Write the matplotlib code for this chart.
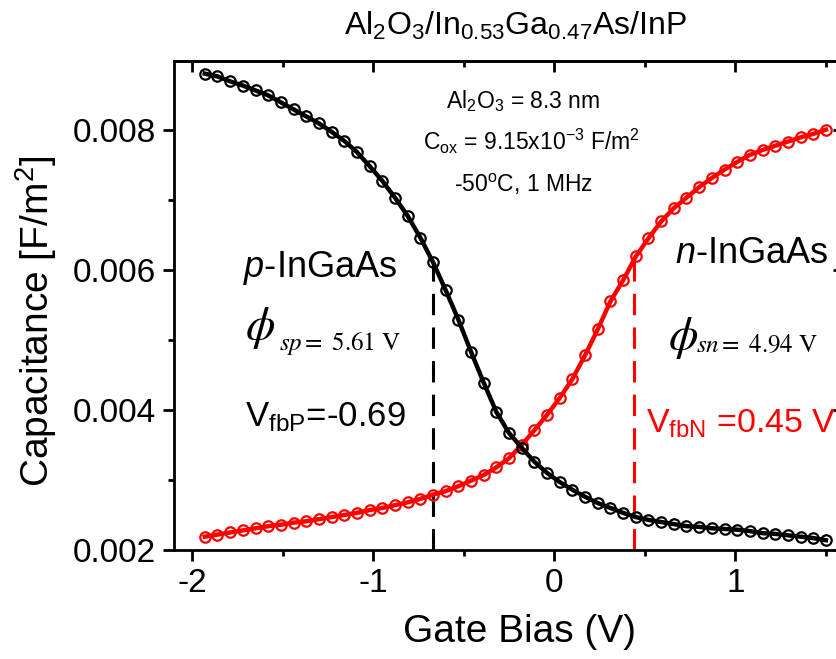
"""C-V curves of Al2O3/In0.53Ga0.47As/InP at -50 C, 1 MHz."""

import matplotlib

matplotlib.use("Agg")
import matplotlib.pyplot as plt
from matplotlib.ticker import FormatStrFormatter, MultipleLocator, NullFormatter

# gate bias sweep (V)
bias = [
    -1.93, -1.86, -1.79, -1.72, -1.65, -1.58, -1.51, -1.44, -1.37, -1.30,
    -1.23, -1.16, -1.09, -1.02, -0.95, -0.88, -0.81, -0.74, -0.67, -0.60,
    -0.53, -0.46, -0.39, -0.32, -0.25, -0.18, -0.11, -0.04, 0.03, 0.10,
    0.17, 0.24, 0.31, 0.38, 0.45, 0.52, 0.59, 0.66, 0.73, 0.80,
    0.87, 0.94, 1.01, 1.08, 1.15, 1.22, 1.29, 1.36, 1.43, 1.50,
]

# p-InGaAs capacitance (F/m^2)
cap_p = [
    0.00880, 0.00876, 0.00869, 0.00863, 0.00856, 0.00849, 0.00839, 0.00829, 0.00819, 0.00809,
    0.00797, 0.00784, 0.00768, 0.00748, 0.00727, 0.00703, 0.00677, 0.00646, 0.00611, 0.00571,
    0.00529, 0.00483, 0.00439, 0.00397, 0.00367, 0.00346, 0.00326, 0.00310, 0.00297, 0.00286,
    0.00276, 0.00267, 0.00260, 0.00253, 0.00247, 0.00243, 0.00240, 0.00237, 0.00234, 0.00233,
    0.00231, 0.00230, 0.00229, 0.00227, 0.00224, 0.00223, 0.00221, 0.00219, 0.00217, 0.00214,
]

# n-InGaAs capacitance (F/m^2)
cap_n = [
    0.00219, 0.00222, 0.00225, 0.00228, 0.00231, 0.00234, 0.00236, 0.00239, 0.00241, 0.00244,
    0.00247, 0.00250, 0.00253, 0.00257, 0.00260, 0.00264, 0.00268, 0.00273, 0.00279, 0.00284,
    0.00291, 0.00299, 0.00307, 0.00318, 0.00331, 0.00350, 0.00371, 0.00393, 0.00417, 0.00444,
    0.00478, 0.00515, 0.00555, 0.00585, 0.00619, 0.00645, 0.00669, 0.00688, 0.00703, 0.00718,
    0.00731, 0.00743, 0.00754, 0.00764, 0.00771, 0.00777, 0.00783, 0.00789, 0.00794, 0.00800,
]

# flat-band markers: (bias, capacitance at top of the dashed line)
vfb_p = (-0.67, 0.0061)
vfb_n = (0.44, 0.0062)

plt.rcParams["font.family"] = ["Liberation Sans", "DejaVu Sans"]
plt.rcParams["mathtext.fontset"] = "custom"
plt.rcParams["mathtext.rm"] = "Liberation Sans"
plt.rcParams["mathtext.it"] = "Liberation Sans:italic"
plt.rcParams["mathtext.bf"] = "Liberation Sans:bold"
plt.rcParams["axes.unicode_minus"] = False

fig = plt.figure(figsize=(8.37, 6.59), dpi=100)
ax = fig.add_axes([0.2079, 0.1654, 0.8005, 0.742])

ax.plot(bias, cap_p, "-o", color="black", lw=3.2, ms=7.5, mfc="none", mew=1.6, zorder=4)
ax.plot(bias, cap_n, "-o", color="red", lw=3.2, ms=7.5, mfc="none", mew=1.6, zorder=3)

ax.plot([vfb_p[0], vfb_p[0]], [0.002, vfb_p[1]], color="black", lw=2.2, dashes=(7, 4), zorder=2)
ax.plot([vfb_n[0], vfb_n[0]], [0.002, vfb_n[1]], color="red", lw=2.2, dashes=(7, 4), zorder=2)

ax.set_xlim(-2.1, 1.6)
ax.set_ylim(0.002, 0.00898)

ax.xaxis.set_major_locator(MultipleLocator(1))
ax.xaxis.set_minor_locator(MultipleLocator(0.5))
ax.yaxis.set_major_locator(MultipleLocator(0.002))
ax.yaxis.set_minor_locator(MultipleLocator(0.001))
ax.yaxis.set_major_formatter(FormatStrFormatter("%.3f"))

for side in ax.spines.values():
    side.set_linewidth(2)
ax.tick_params(which="both", direction="out", width=2, labelsize=24, pad=5, top=False, right=False)
ax.tick_params(which="major", length=8)
ax.tick_params(which="minor", length=4)

# mirrored axes with inward ticks
top = ax.secondary_xaxis("top")
top.xaxis.set_major_locator(MultipleLocator(1))
top.xaxis.set_minor_locator(MultipleLocator(0.5))
top.xaxis.set_major_formatter(NullFormatter())
top.tick_params(which="both", direction="in", width=2)
top.tick_params(which="major", length=8)
top.tick_params(which="minor", length=4)
top.spines["top"].set_linewidth(2)

right = ax.secondary_yaxis("right")
right.yaxis.set_major_locator(MultipleLocator(0.002))
right.yaxis.set_minor_locator(MultipleLocator(0.001))
right.yaxis.set_major_formatter(NullFormatter())
right.tick_params(which="both", direction="in", width=2)
right.tick_params(which="major", length=8)
right.tick_params(which="minor", length=4)
right.spines["right"].set_linewidth(2)

ax.set_xlabel("Gate Bias (V)", fontsize=28)
ax.xaxis.set_label_coords(0.516, -0.13)
ax.set_ylabel(r"Capacitance [F/m$^{2}$]", fontsize=28)
ax.yaxis.set_label_coords(-0.172, 0.468)

ax.set_title(r"Al$_{2}$O$_{3}$/In$_{0.53}$Ga$_{0.47}$As/InP", fontsize=23, x=0.509, y=1.0, pad=19)

# oxide info
ax.text(-0.171, 0.00831, r"Al$_{2}$O$_{3}$ = 8.3 nm", fontsize=16.5, ha="center", va="baseline")
ax.text(-0.128, 0.00771, r"C$_{\mathrm{ox}}$ = 9.15x10$^{\mathrm{-3}}$ F/m$^{2}$", fontsize=16.5,
        ha="center", va="baseline")
ax.text(-0.171, 0.00711, r"-50$^{\mathrm{o}}$C, 1 MHz", fontsize=16.5, ha="center", va="baseline")

# p side
ax.text(-1.707, 0.00517, r"$\phi$", fontsize=34, va="center", math_fontfamily="stix")
ax.text(-1.52, 0.00486, r"$\mathit{sp{=}}\ \mathrm{5.61\ V}$", fontsize=18, va="baseline",
        math_fontfamily="stix")
ax.text(-1.718, 0.0059, r"$p$-InGaAs", fontsize=26, va="baseline")
ax.text(-1.707, 0.00376, r"V$_{\mathrm{fbP}}$=-0.69", fontsize=25, va="baseline")

# n side
ax.text(0.669, 0.0061, r"$n$-InGaAs", fontsize=26, va="baseline")
ax.text(0.63, 0.00503, r"$\phi$", fontsize=34, va="center", math_fontfamily="stix")
ax.text(0.785, 0.00483, r"$\mathit{sn{=}}\ \mathrm{4.94\ V}$", fontsize=18, va="baseline",
        math_fontfamily="stix")
ax.text(0.508, 0.00367, r"V$_{\mathrm{fbN}}$ =0.45 V", fontsize=24.5, va="baseline", color="red")

fig.savefig("out.png", dpi=100)
plt.close(fig)
